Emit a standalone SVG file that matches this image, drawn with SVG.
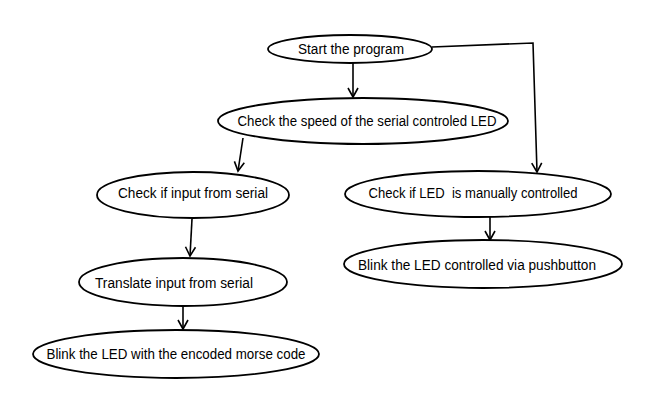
<svg xmlns="http://www.w3.org/2000/svg" width="672" height="407" viewBox="0 0 672 407">
<style>
.n{fill:#fff;stroke:#000;stroke-width:1.8}
.t{font-family:"Liberation Sans",Arial,sans-serif;font-size:14px;fill:#000;white-space:pre}
.c{fill:none;stroke:#000;stroke-width:1.6;marker-end:url(#a)}
</style>
<defs>
<marker id="a" markerWidth="12" markerHeight="14" refX="10" refY="6" orient="auto" markerUnits="userSpaceOnUse" viewBox="0 0 12 12">
<path d="M1,1 L10,6 L1,11" fill="none" stroke="#000" stroke-width="1.6"/>
</marker>
</defs>
<rect width="672" height="407" fill="#fff"/>
<g id="connectors">
<path class="c" d="M353,63 L353,97"/>
<path class="c" d="M432,47 L533,43 L537,172"/>
<path class="c" d="M243,138 L238,171"/>
<path class="c" d="M192,219 L190,256"/>
<path class="c" d="M183,307 L183,329"/>
<path class="c" d="M490,217 L490,240"/>
</g>
<g id="start"><ellipse class="n" cx="350" cy="49" rx="82" ry="14"/><text class="t" x="351" y="54" text-anchor="middle" textLength="106" lengthAdjust="spacingAndGlyphs">Start the program</text></g>
<g id="speed"><ellipse class="n" cx="363" cy="121" rx="145" ry="23"/><text class="t" x="367" y="126" text-anchor="middle" textLength="259" lengthAdjust="spacingAndGlyphs">Check the speed of the serial controled LED</text></g>
<g id="input"><ellipse class="n" cx="193" cy="195" rx="96" ry="23"/><text class="t" x="193" y="198" text-anchor="middle" textLength="150" lengthAdjust="spacingAndGlyphs">Check if input from serial</text></g>
<g id="translate"><ellipse class="n" cx="183" cy="282" rx="104" ry="24"/><text class="t" x="174" y="288" text-anchor="middle" textLength="158" lengthAdjust="spacingAndGlyphs">Translate input from serial</text></g>
<g id="morse"><ellipse class="n" cx="176" cy="354" rx="143" ry="24"/><text class="t" x="176" y="359" text-anchor="middle" textLength="259" lengthAdjust="spacingAndGlyphs">Blink the LED with the encoded morse code</text></g>
<g id="manual"><ellipse class="n" cx="478" cy="194" rx="133" ry="23"/><text class="t" x="473" y="198" text-anchor="middle" textLength="209" lengthAdjust="spacingAndGlyphs">Check if LED  is manually controlled</text></g>
<g id="push"><ellipse class="n" cx="483" cy="264" rx="139" ry="24"/><text class="t" x="477" y="270" text-anchor="middle" textLength="238" lengthAdjust="spacingAndGlyphs">Blink the LED controlled via pushbutton</text></g>
</svg>
